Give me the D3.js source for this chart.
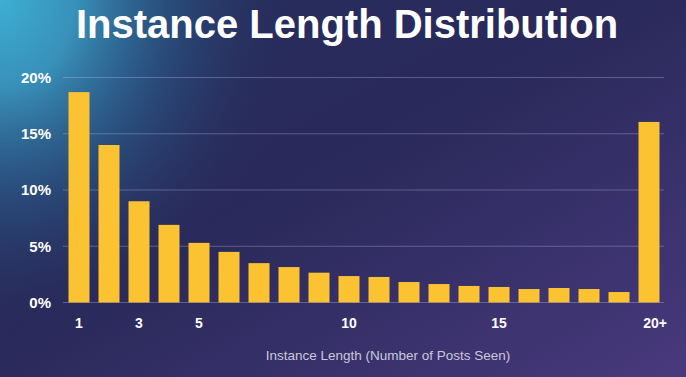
<!DOCTYPE html>
<html>
<head>
<meta charset="utf-8">
<script src="https://cdn.jsdelivr.net/npm/d3@7"></script>
<style>
  html, body { margin: 0; padding: 0; background: #29295a; }
  svg { display: block; font-family: "Liberation Sans", Arial, sans-serif; }
</style>
</head>
<body>
<script>
// data
const categories = ["1","2","3","4","5","6","7","8","9","10","11","12","13","14","15","16","17","18","19","20+"];
const shares = [18.7, 14.0, 9.0, 6.9, 5.3, 4.5, 3.5, 3.15, 2.65, 2.35, 2.27, 1.82, 1.64, 1.47, 1.38, 1.2, 1.29, 1.2, 0.93, 16.05];
const yTicks = [0, 5, 10, 15, 20];
const xLabels = ["1", "3", "5", "10", "15", "20+"];

const width = 686;
const height = 377;
const margin = { top: 77.5, right: 22, bottom: 74.5, left: 64 };

const svg = d3.select("body")
    .append("svg")
    .attr("width", width)
    .attr("height", height);

// background: navy -> purple, with a cyan glow in the top-left corner
const defs = svg.append("defs");
const lin = defs.append("linearGradient")
    .attr("id", "bg")
    .attr("x1", 0).attr("y1", 0).attr("x2", 1).attr("y2", 1);
lin.append("stop").attr("offset", "0%").attr("stop-color", "#26305e");
lin.append("stop").attr("offset", "45%").attr("stop-color", "#29295a");
lin.append("stop").attr("offset", "100%").attr("stop-color", "#48397c");

const glow = defs.append("radialGradient")
    .attr("id", "glow")
    .attr("gradientUnits", "userSpaceOnUse")
    .attr("cx", 0).attr("cy", 0).attr("r", 300)
    .attr("gradientTransform", "scale(1,1.15)");
glow.append("stop").attr("offset", "0%").attr("stop-color", "#3eaed2").attr("stop-opacity", 1);
glow.append("stop").attr("offset", "25%").attr("stop-color", "#3a9cc4").attr("stop-opacity", 0.9);
glow.append("stop").attr("offset", "60%").attr("stop-color", "#2a6694").attr("stop-opacity", 0.45);
glow.append("stop").attr("offset", "100%").attr("stop-color", "#29295a").attr("stop-opacity", 0);

svg.append("rect").attr("width", width).attr("height", height).attr("fill", "url(#bg)");
svg.append("rect").attr("width", width).attr("height", height).attr("fill", "url(#glow)");

svg.append("text")
    .attr("x", 347)
    .attr("y", 38)
    .attr("text-anchor", "middle")
    .attr("fill", "#ffffff")
    .attr("font-size", 40)
    .attr("font-weight", "bold")
    .text("Instance Length Distribution");

const x = d3.scaleBand()
    .domain(categories)
    .range([margin.left, width - margin.right])
    .paddingInner(0.3)
    .paddingOuter(0.15);

const y = d3.scaleLinear()
    .domain([0, 20])
    .range([height - margin.bottom, margin.top]);

// gridlines
svg.append("g")
    .selectAll("line")
    .data(yTicks)
    .enter().append("line")
    .attr("x1", margin.left - 1)
    .attr("x2", width - margin.right)
    .attr("y1", d => y(d))
    .attr("y2", d => y(d))
    .attr("stroke", "rgba(200,200,235,0.32)")
    .attr("stroke-width", 1);

// y labels
svg.append("g")
    .selectAll("text")
    .data(yTicks)
    .enter().append("text")
    .attr("x", 51)
    .attr("y", d => y(d))
    .attr("dy", "0.36em")
    .attr("text-anchor", "end")
    .attr("fill", "#ffffff")
    .attr("font-size", 15)
    .attr("font-weight", "bold")
    .text(d => d + "%");

// bars
svg.append("g")
    .selectAll("rect")
    .data(shares)
    .enter().append("rect")
    .attr("x", (d, i) => x(categories[i]))
    .attr("y", d => y(d))
    .attr("width", x.bandwidth())
    .attr("height", d => y(0) - y(d))
    .attr("fill", "#fbc231");

// x labels
svg.append("g")
    .selectAll("text")
    .data(xLabels)
    .enter().append("text")
    .attr("x", d => x(d) + x.bandwidth() / 2 + (d === "20+" ? 6 : 0))
    .attr("y", 328)
    .attr("text-anchor", "middle")
    .attr("fill", "#ffffff")
    .attr("font-size", 14)
    .attr("font-weight", "bold")
    .text(d => d);

svg.append("text")
    .attr("x", 388)
    .attr("y", 360)
    .attr("text-anchor", "middle")
    .attr("fill", "#c9c9dc")
    .attr("font-size", 13.5)
    .text("Instance Length (Number of Posts Seen)");
</script>
</body>
</html>
